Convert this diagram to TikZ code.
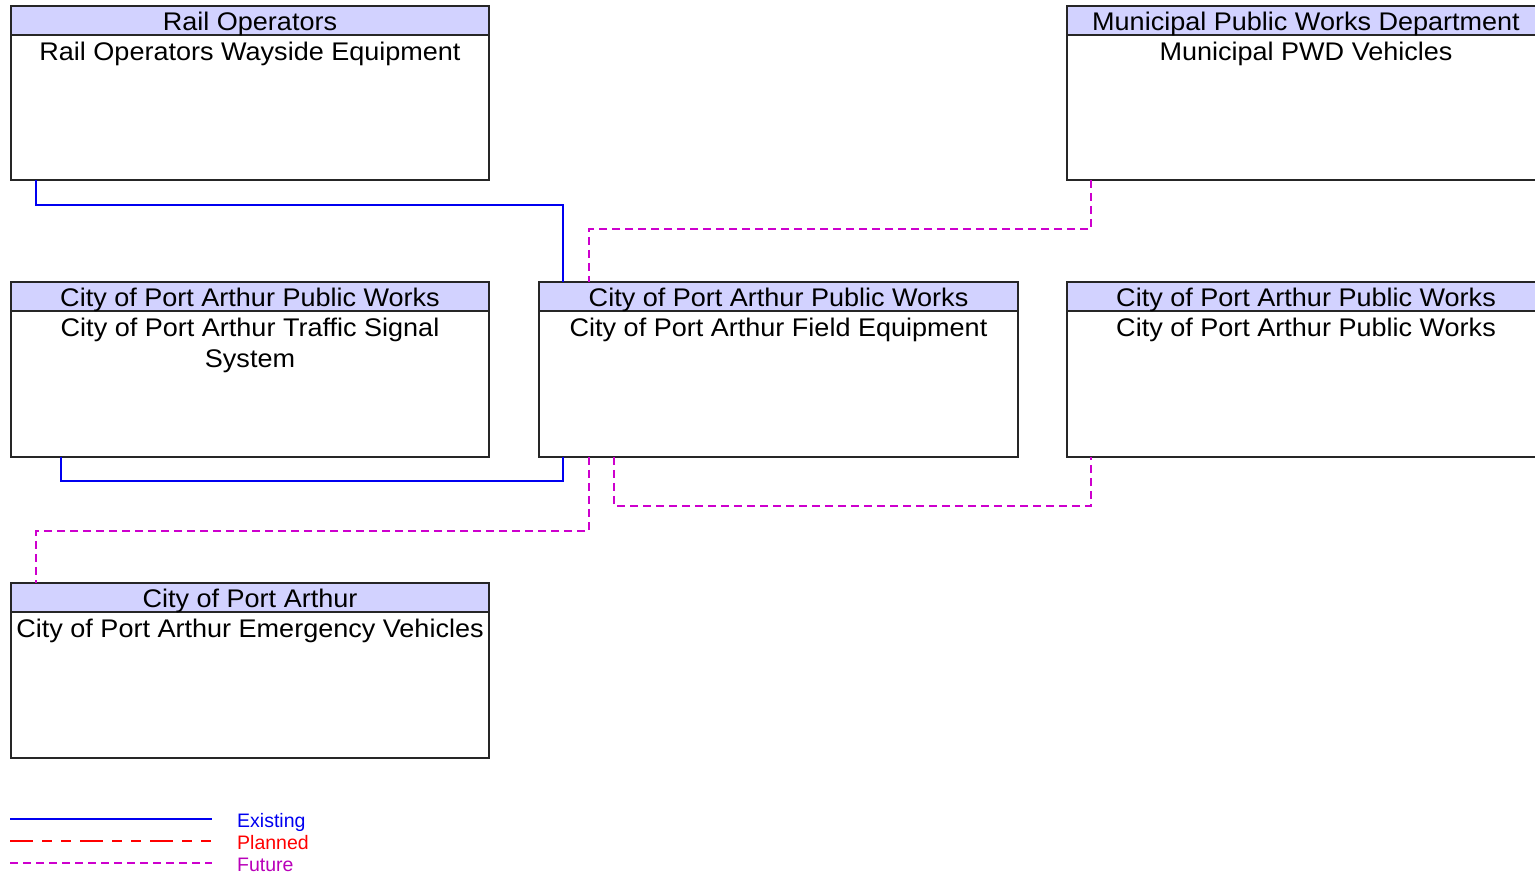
\documentclass[tikz,border=0pt]{standalone}
\usepackage{fontspec}
\setmainfont[FakeStretch=1.06]{Liberation Sans}
\newfontfamily\legfont{Liberation Sans}
\usetikzlibrary{calc}
\definecolor{hdrfill}{RGB}{210,210,255}
\definecolor{existc}{RGB}{0,0,240}
\definecolor{plannedc}{RGB}{255,0,0}
\definecolor{futurec}{RGB}{205,0,205}
\tikzset{
  boxshape/.style={rectangle,inner sep=0pt,outer sep=0pt,anchor=north west},
  boxborder/.style={draw=black!85,line width=1.3pt},
  hdrstyle/.style={fill=hdrfill},
  boxtext/.style={anchor=base,inner sep=0pt,font=\fontsize{25.5}{31}\selectfont},
  exist/.style={draw=existc,line width=1.3pt},
  planned/.style={draw=plannedc,line width=1.4pt,dash pattern=on 23pt off 9pt on 10pt off 9pt on 10pt off 9pt},
  future/.style={draw=futurec,line width=1.4pt,dash pattern=on 8pt off 5pt},
  legtext/.style={anchor=base west,inner sep=0pt,font=\legfont\fontsize{19.5}{22}\selectfont},
}
\newcommand\mkbox[6]{%
  \node[boxshape,minimum width=#4,minimum height=#5] (#1) at (#2,#3) {};
  \fill[white] (#1.north west) rectangle (#1.south east);
  \fill[hdrstyle] (#1.north west) rectangle ($(#1.north east)+(0,29)$);
  \draw[boxborder] ($(#1.north west)+(0,29)$) -- ($(#1.north east)+(0,29)$);
  \draw[boxborder] (#1.north west) rectangle (#1.south east);
  \node[boxtext] (#1h) at ($(#1.north)+(0,24.5)$) {#6};
}
\begin{document}
\begin{tikzpicture}[x=1pt,y=-1pt]
\useasboundingbox (0,0) rectangle (1535,874);
\clip (0,0) rectangle (1535,874);

\mkbox{rail}{11}{6}{478}{174}{Rail Operators}
\node[boxtext] (railb) at ($(rail.north)+(0,54.5)$) {Rail Operators Wayside Equipment};

\mkbox{muni}{1067}{6}{478}{174}{Municipal Public Works Department}
\node[boxtext] (munib) at ($(muni.north)+(0,54.5)$) {Municipal PWD Vehicles};

\mkbox{traffic}{11}{282}{478}{175}{City of Port Arthur Public Works}
\node[boxtext] (trafficb) at ($(traffic.north)+(0,54.5)$) {City of Port Arthur Traffic Signal};
\node[boxtext] (trafficc) at ($(traffic.north)+(0,85.5)$) {System};

\mkbox{field}{539}{282}{479}{175}{City of Port Arthur Public Works}
\node[boxtext] (fieldb) at ($(field.north)+(0,54.5)$) {City of Port Arthur Field Equipment};

\mkbox{pw}{1067}{282}{478}{175}{City of Port Arthur Public Works}
\node[boxtext] (pwb) at ($(pw.north)+(0,54.5)$) {City of Port Arthur Public Works};

\mkbox{emerg}{11}{583}{478}{175}{City of Port Arthur}
\node[boxtext] (emergb) at ($(emerg.north)+(0,54.5)$) {City of Port Arthur Emergency Vehicles};

% connectors
\draw[exist] ($(rail.south west)+(25,0)$) -- ++(0,25) -| ($(field.north west)+(24,0)$);
\draw[future] ($(muni.south west)+(24,0)$) -- ++(0,49) -| ($(field.north west)+(50,0)$);
\draw[exist] ($(traffic.south west)+(50,0)$) -- ++(0,24) -| ($(field.south west)+(24,0)$);
\draw[future] ($(field.south west)+(50,0)$) -- ++(0,74) -| ($(emerg.north west)+(25,0)$);
\draw[future] ($(field.south west)+(75,0)$) -- ++(0,49) -| ($(pw.south west)+(24,0)$);

% legend
\coordinate (le1) at (10,819); \coordinate (le2) at (212,819);
\coordinate (lp1) at (10,841); \coordinate (lp2) at (212,841);
\coordinate (lf1) at (10,863); \coordinate (lf2) at (212,863);
\draw[exist] (le1) -- (le2);
\draw[planned] (lp1) -- (lp2);
\draw[future] (lf1) -- (lf2);
\node[legtext,text=existc] (lgE) at (237,827) {Existing};
\node[legtext,text=plannedc] (lgP) at (237,849) {Planned};
\node[legtext,text=futurec!90!black] (lgF) at (237,871) {Future};
\end{tikzpicture}
\end{document}
